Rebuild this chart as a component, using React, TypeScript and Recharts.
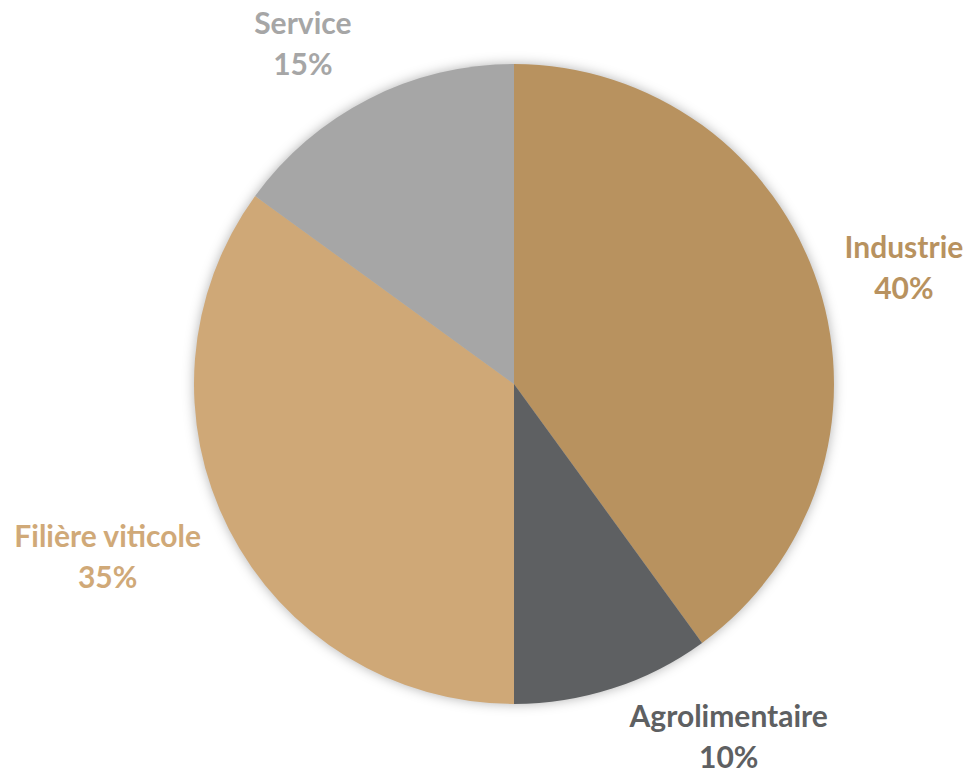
import * as React from "react"
import { PieChart, Pie, Cell } from "recharts"

// Répartition par secteur (sens horaire depuis midi)
const SECTORS = ["Industrie", "Agrolimentaire", "Filière viticole", "Service"]
const SHARES = [40, 10, 35, 15]
const SLICE_COLORS = ["#B8925F", "#5E6062", "#CFA877", "#A6A6A6"]
const LABEL_COLORS = ["#B8925F", "#5E6062", "#D0A978", "#A6A6A6"]

// label placement tweaks (px) relative to the radial anchor
const LABEL_NUDGE: Record<string, [number, number]> = {
  Industrie: [0, 12],
  Agrolimentaire: [88, -36],
  "Filière viticole": [-41, -12],
  Service: [-25, 26],
}

const RADIAN = Math.PI / 180
const FONT = "Lato, 'Open Sans', sans-serif"

const data = SECTORS.map((name, i) => ({ name, value: SHARES[i] }))

interface LabelProps {
  cx: number
  cy: number
  midAngle: number
  outerRadius: number
  index: number
  name: string
  value: number
}

const SliceLabel = ({ cx, cy, midAngle, outerRadius, index, name, value }: LabelProps) => {
  const r = outerRadius + 90
  const [dx, dy] = LABEL_NUDGE[name] ?? [0, 0]
  const x = cx + r * Math.cos(-midAngle * RADIAN) + dx
  const y = cy + r * Math.sin(-midAngle * RADIAN) + dy
  return (
    <text
      x={x}
      y={y}
      textAnchor="middle"
      fill={LABEL_COLORS[index]}
      fontFamily={FONT}
      fontWeight={700}
      fontSize={30}
    >
      <tspan x={x} dy={-11}>{name}</tspan>
      <tspan x={x} dy={41}>{value}%</tspan>
    </text>
  )
}

export default function App() {
  return (
    <div style={{ position: "absolute", left: 0, top: 0, width: 970, height: 773, background: "#fff" }}>
      <style>{`g:has(> .recharts-pie-sector){filter:drop-shadow(0 0 6px rgba(0,0,0,0.3))}`}</style>
      <PieChart width={970} height={773} margin={{ top: 0, right: 0, bottom: 0, left: 0 }}>
        <Pie
          data={data}
          dataKey="value"
          nameKey="name"
          cx={514}
          cy={384}
          outerRadius={320}
          startAngle={90}
          endAngle={-270}
          stroke="none"
          labelLine={false}
          label={(p: unknown) => <SliceLabel {...(p as LabelProps)} />}
          isAnimationActive={false}
        >
          {data.map((entry, index) => (
            <Cell key={`cell-${index}`} fill={SLICE_COLORS[index]} />
          ))}
        </Pie>
      </PieChart>
    </div>
  )
}
